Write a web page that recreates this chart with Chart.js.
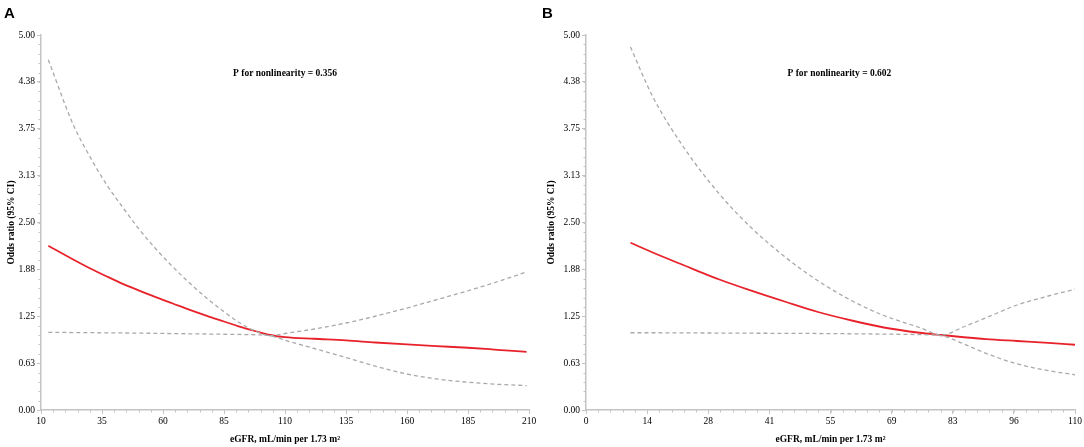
<!DOCTYPE html>
<html>
<head>
<meta charset="utf-8">
<script src="https://cdn.jsdelivr.net/npm/chart.js@4/dist/chart.umd.min.js"></script>
<style>
  html, body { margin: 0; padding: 0; background: #fff; }
  #wrap { position: relative; width: 1084px; height: 447px; }
  .panel { position: absolute; top: 0; height: 447px; }
  #panelA { left: 0; width: 540px; }
  #panelB { left: 540px; width: 544px; }
</style>
</head>
<body>
<div id="wrap">
  <div class="panel" id="panelA"><canvas id="chartA"></canvas></div>
  <div class="panel" id="panelB"><canvas id="chartB"></canvas></div>
</div>
<script>
// Panel A: eGFR 10-210
const egfrA = [13, 23, 30, 37, 44, 50, 57, 64, 71, 78, 85, 91, 98, 104, 110, 122, 135, 147, 160, 172, 185, 197, 209];
const orA = [2.19, 2.01, 1.89, 1.78, 1.675, 1.595, 1.505, 1.42, 1.335, 1.255, 1.18, 1.115, 1.05, 1.0, 0.972, 0.95, 0.928, 0.9, 0.874, 0.852, 0.83, 0.803, 0.775];
const upperA = [4.67, 3.82, 3.38, 3.0, 2.68, 2.42, 2.15, 1.91, 1.69, 1.49, 1.31, 1.17, 1.05, 0.99, 1.02, 1.08, 1.16, 1.25, 1.36, 1.47, 1.59, 1.71, 1.84];
const lowerA = [1.035, 1.033, 1.031, 1.029, 1.027, 1.025, 1.022, 1.019, 1.016, 1.013, 1.01, 1.007, 1.003, 0.99, 0.93, 0.82, 0.7, 0.585, 0.48, 0.415, 0.37, 0.343, 0.325];
const xTicksA = { min: 10, max: 210, step: 25 };
const pTextA = "P for nonlinearity = 0.356";

// Panel B: eGFR 0-110
const egfrB = [10, 15, 22, 30, 37, 45, 52, 60, 67, 75, 80, 85, 90, 97, 104, 110];
const orB = [2.23, 2.1, 1.93, 1.74, 1.595, 1.44, 1.31, 1.19, 1.1, 1.03, 1.0, 0.97, 0.945, 0.92, 0.895, 0.87];
const upperB = [4.84, 4.18, 3.5, 2.88, 2.44, 2.03, 1.73, 1.45, 1.26, 1.1, 1.0, 1.11, 1.23, 1.4, 1.52, 1.61];
const lowerB = [1.03, 1.03, 1.028, 1.026, 1.024, 1.022, 1.02, 1.016, 1.012, 1.005, 0.99, 0.88, 0.755, 0.615, 0.525, 0.47];
const xTicksB = { min: 0, max: 110, step: 13.75 };
const pTextB = "P for nonlinearity = 0.602";

const yTicks = { min: 0, max: 5, step: 0.625 };

const RED = "#e8222a";
const GREY = "#a9a9a9";
const AXIS = "#c4c4c4";
const SERIF = "'Liberation Serif', 'Times New Roman', serif";

const toPoints = (xs, ys) => xs.map((x, i) => ({ x: x, y: ys[i] }));

// small minor ticks (5 subdivisions) plus panel letter and p-value text
const extrasPlugin = {
  id: "extras",
  afterDraw(chart, args, opts) {
    const ctx = chart.ctx;
    const xs = chart.scales.x;
    const ys = chart.scales.y;
    const area = chart.chartArea;
    ctx.save();
    ctx.strokeStyle = AXIS;
    ctx.lineWidth = 1;
    const xMinor = opts.xStep / 5;
    for (let v = opts.xMin; v <= opts.xMax + 1e-6; v += xMinor) {
      const px = Math.round(xs.getPixelForValue(v)) + 0.5;
      ctx.beginPath();
      ctx.moveTo(px, area.bottom);
      ctx.lineTo(px, area.bottom + 2.5);
      ctx.stroke();
    }
    const yMinor = yTicks.step / 5;
    for (let v = yTicks.min; v <= yTicks.max + 1e-6; v += yMinor) {
      const py = Math.round(ys.getPixelForValue(v)) + 0.5;
      ctx.beginPath();
      ctx.moveTo(area.left, py);
      ctx.lineTo(area.left - 2.5, py);
      ctx.stroke();
    }
    ctx.fillStyle = "#000";
    ctx.font = "bold 15px Arial, 'Liberation Sans', sans-serif";
    ctx.textAlign = "left";
    ctx.textBaseline = "middle";
    ctx.fillText(opts.letter, opts.letterX, 14);
    ctx.font = "bold 9.5px " + SERIF;
    ctx.textAlign = "center";
    ctx.fillText(opts.pText, xs.getPixelForValue(opts.pAt), 74);
    ctx.restore();
  }
};

function makeChart(id, xs, or, up, lo, xt, letter, letterX, pText, pAt, yWidth, padRight) {
  const ctx = document.getElementById(id).getContext("2d");
  return new Chart(ctx, {
    type: "line",
    data: {
      datasets: [
        {
          label: "Upper 95% CI",
          data: toPoints(xs, up),
          borderColor: GREY,
          borderWidth: 1.3,
          borderDash: [4, 3],
          pointRadius: 0,
          cubicInterpolationMode: "monotone",
        },
        {
          label: "Lower 95% CI",
          data: toPoints(xs, lo),
          borderColor: GREY,
          borderWidth: 1.3,
          borderDash: [4, 3],
          pointRadius: 0,
          cubicInterpolationMode: "monotone",
        },
        {
          label: "Odds ratio",
          data: toPoints(xs, or),
          borderColor: RED,
          borderWidth: 1.8,
          pointRadius: 0,
          cubicInterpolationMode: "monotone",
        },
      ],
    },
    options: {
      responsive: true,
      maintainAspectRatio: false,
      animation: false,
      layout: { padding: { top: 35, right: padRight, left: 0, bottom: 0 } },
      plugins: {
        legend: { display: false },
        tooltip: { enabled: false },
        extras: { xMin: xt.min, xMax: xt.max, xStep: xt.step, letter: letter, letterX: letterX, pText: pText, pAt: pAt },
      },
      scales: {
        x: {
          type: "linear",
          min: xt.min,
          max: xt.max,
          afterFit: (scale) => { scale.height = 37; },
          ticks: {
            stepSize: xt.step,
            autoSkip: false,
            maxRotation: 0,
            padding: 2,
            color: "#000",
            font: { family: SERIF, size: 9.5 },
            callback: (v) => Math.round(v),
          },
          grid: { drawOnChartArea: false, tickLength: 4, color: AXIS },
          border: { color: AXIS, width: 1.5 },
          title: {
            display: true,
            text: "eGFR, mL/min per 1.73 m²",
            color: "#000",
            font: { family: SERIF, size: 9.5, weight: "bold" },
            padding: { top: 0, bottom: 2 },
          },
        },
        y: {
          min: yTicks.min,
          max: yTicks.max,
          afterFit: (scale) => { scale.width = yWidth; },
          ticks: {
            stepSize: yTicks.step,
            autoSkip: false,
            padding: 2,
            color: "#000",
            font: { family: SERIF, size: 9.5 },
            callback: (v) => Number(v).toFixed(2),
          },
          grid: { drawOnChartArea: false, tickLength: 4, color: AXIS },
          border: { color: AXIS, width: 1.5 },
          title: {
            display: true,
            text: "Odds ratio (95% CI)",
            color: "#000",
            font: { family: SERIF, size: 9.5, weight: "bold" },
            padding: { top: 6, bottom: 0 },
          },
        },
      },
    },
    plugins: [extrasPlugin],
  });
}

makeChart("chartA", egfrA, orA, upperA, lowerA, xTicksA, "A", 4, pTextA, 110, 41, 11);
makeChart("chartB", egfrB, orB, upperB, lowerB, xTicksB, "B", 2, pTextB, 57, 46, 9);
</script>
</body>
</html>
